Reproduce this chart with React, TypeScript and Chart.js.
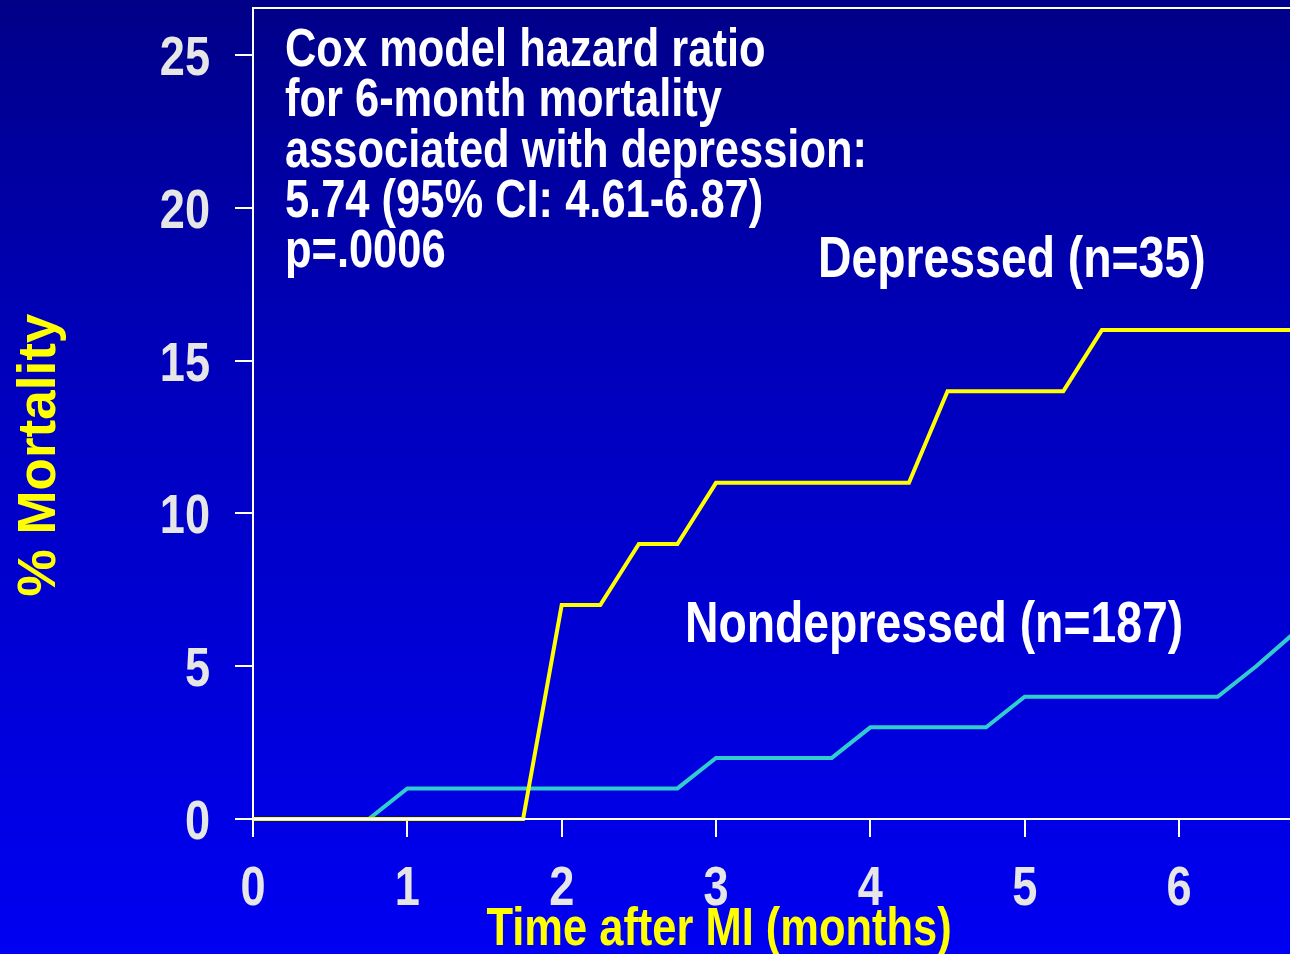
import React, { useEffect, useRef } from "react";
import { Chart, registerables } from "chart.js";

Chart.register(...registerables);

// ---- Data ----
const MONTHS_DEPRESSED = [0, 1.75, 2, 2.25, 2.5, 2.75, 3, 4.25, 4.5, 5.25, 5.5, 6.75];
const MORTALITY_DEPRESSED = [0, 0, 7, 7, 9, 9, 11, 11, 14, 14, 16, 16];
const MONTHS_NONDEPRESSED = [0, 0.75, 1, 2.75, 3, 3.75, 4, 4.75, 5, 6.25, 6.5, 6.75];
const MORTALITY_NONDEPRESSED = [0, 0, 1, 1, 2, 2, 3, 3, 4, 4, 5, 6.1];
const X_TICKS = [0, 1, 2, 3, 4, 5, 6];
const Y_TICKS = [0, 5, 10, 15, 20, 25];
const NOTE_LINES = [
  "Cox model hazard ratio",
  "for 6-month mortality",
  "associated with depression:",
  "5.74 (95% CI: 4.61-6.87)",
  "p=.0006",
];
const LABEL_DEPRESSED = "Depressed (n=35)";
const LABEL_NONDEPRESSED = "Nondepressed (n=187)";
const X_TITLE = "Time after MI (months)";
const Y_TITLE = "% Mortality";

const FONT = "'Liberation Sans', Arial, Helvetica, sans-serif";
const NARROW_SCALE = 0.82;

function narrowText(ctx: CanvasRenderingContext2D, text: string, x: number, y: number) {
  ctx.save();
  ctx.translate(x, y);
  ctx.scale(NARROW_SCALE, 1);
  ctx.fillText(text, 0, 0);
  ctx.restore();
}

export default function App() {
  const ref = useRef<HTMLCanvasElement | null>(null);

  useEffect(() => {
    document.body.style.margin = "0";
    document.body.style.overflow = "hidden";
    const canvas = ref.current;
    if (!canvas) return;

    const bgPlugin = {
      id: "bg",
      beforeDraw(chart: any) {
        const { ctx, width, height } = chart;
        const g = ctx.createLinearGradient(0, 0, 0, height);
        g.addColorStop(0, "#000088");
        g.addColorStop(0.35, "#0000b8");
        g.addColorStop(1, "#0000f2");
        ctx.save();
        ctx.fillStyle = g;
        ctx.fillRect(0, 0, width, height);
        ctx.restore();
      },
    };

    const textPlugin = {
      id: "texts",
      afterDraw(chart: any) {
        const { ctx, chartArea } = chart;
        const xs = chart.scales.x;
        const ys = chart.scales.y;
        ctx.save();
        // frame lines (top and bottom axis over the data lines)
        ctx.strokeStyle = "#ffffff";
        ctx.lineWidth = 2;
        ctx.beginPath();
        ctx.moveTo(chartArea.left, chartArea.top);
        ctx.lineTo(chartArea.right, chartArea.top);
        ctx.moveTo(chartArea.left, chartArea.bottom);
        ctx.lineTo(chartArea.right, chartArea.bottom);
        ctx.stroke();

        ctx.textBaseline = "alphabetic";

        // tick labels
        ctx.fillStyle = "#e6e6e6";
        ctx.font = `bold 55px ${FONT}`;
        ctx.textAlign = "center";
        X_TICKS.forEach((v) => narrowText(ctx, String(v), xs.getPixelForValue(v), chartArea.bottom + 86));
        ctx.textAlign = "right";
        Y_TICKS.forEach((v) => narrowText(ctx, String(v), chartArea.left - 43, ys.getPixelForValue(v) + 20));

        // annotation
        ctx.fillStyle = "#ffffff";
        ctx.textAlign = "left";
        ctx.font = `bold 53px ${FONT}`;
        const nx = xs.getPixelForValue(0.207);
        NOTE_LINES.forEach((t, i) => narrowText(ctx, t, nx, ys.getPixelForValue(24.64 - i * 1.646)));

        ctx.font = `bold 56.5px ${FONT}`;
        narrowText(ctx, LABEL_DEPRESSED, xs.getPixelForValue(3.661), ys.getPixelForValue(17.74));
        narrowText(ctx, LABEL_NONDEPRESSED, xs.getPixelForValue(2.799), ys.getPixelForValue(5.79));

        // axis titles
        ctx.fillStyle = "#ffff00";
        ctx.textAlign = "center";
        ctx.font = `bold 53px ${FONT}`;
        narrowText(ctx, X_TITLE, xs.getPixelForValue(3.02), chartArea.bottom + 126);

        ctx.font = `bold 53px ${FONT}`;
        ctx.translate(chartArea.left - 198, ys.getPixelForValue(11.91));
        ctx.rotate(-Math.PI / 2);
        ctx.fillText(Y_TITLE, 0, 0);
        ctx.restore();
      },
    };

    const chart = new Chart(canvas, {
      type: "line",
      data: {
        datasets: [
          {
            label: "Depressed",
            data: MONTHS_DEPRESSED.map((m, i) => ({ x: m, y: MORTALITY_DEPRESSED[i] })),
            borderColor: "#ffff00",
            borderWidth: 4,
            pointRadius: 0,
            tension: 0,
            clip: false as any,
          },
          {
            label: "Nondepressed",
            data: MONTHS_NONDEPRESSED.map((m, i) => ({ x: m, y: MORTALITY_NONDEPRESSED[i] })),
            borderColor: "#33cccc",
            borderWidth: 4,
            pointRadius: 0,
            tension: 0,
            clip: false as any,
          },
        ],
      },
      options: {
        animation: false,
        responsive: false,
        devicePixelRatio: 1,
        layout: { padding: { top: 8, right: 0, bottom: 0, left: 0 } },
        plugins: { legend: { display: false }, tooltip: { enabled: false } },
        scales: {
          x: {
            type: "linear",
            min: 0,
            max: 6.719,
            afterBuildTicks: (s: any) => {
              s.ticks = X_TICKS.map((v) => ({ value: v }));
            },
            afterFit: (s: any) => {
              s.height = 135;
              s.paddingLeft = 0;
              s.paddingRight = 0;
              s.paddingTop = 0;
              s.paddingBottom = 0;
            },
            grid: { drawOnChartArea: false, color: "#ffffff", lineWidth: 2, tickLength: 18 },
            border: { display: true, color: "#ffffff", width: 2 },
            ticks: { display: false, autoSkip: false },
          },
          y: {
            type: "linear",
            min: 0,
            max: 26.54,
            afterBuildTicks: (s: any) => {
              s.ticks = Y_TICKS.map((v) => ({ value: v }));
            },
            afterFit: (s: any) => {
              s.width = 253;
              s.paddingLeft = 0;
              s.paddingRight = 0;
              s.paddingTop = 0;
              s.paddingBottom = 0;
            },
            grid: { drawOnChartArea: false, color: "#ffffff", lineWidth: 2, tickLength: 18 },
            border: { display: true, color: "#ffffff", width: 2 },
            ticks: { display: false, autoSkip: false },
          },
        },
      },
      plugins: [bgPlugin, textPlugin],
    } as any);

    return () => chart.destroy();
  }, []);

  return (
    <div style={{ width: 1290, height: 954, overflow: "hidden" }}>
      <canvas ref={ref} width={1290} height={954} style={{ display: "block" }} />
    </div>
  );
}
